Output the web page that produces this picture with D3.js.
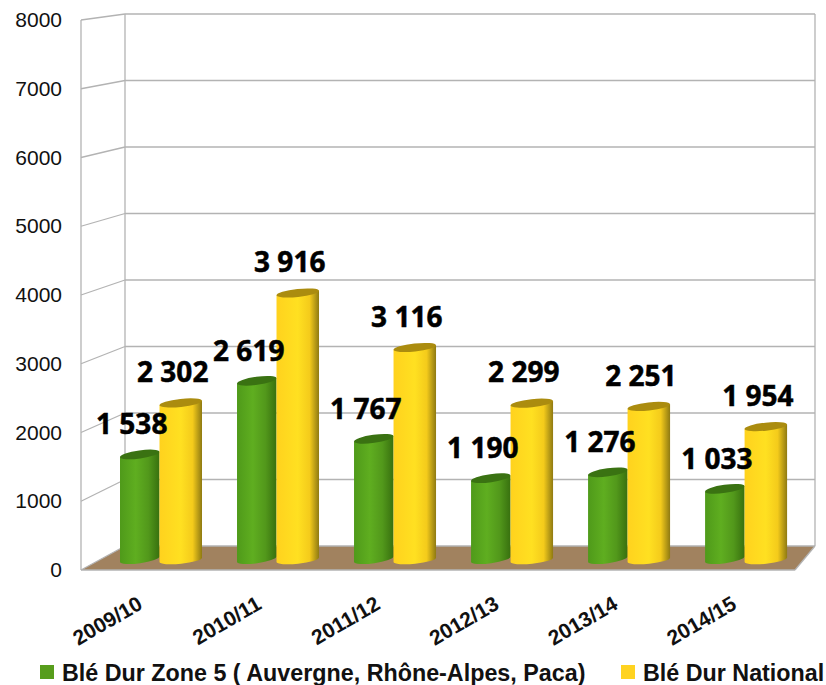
<!DOCTYPE html>
<html>
<head>
<meta charset="utf-8">
<script src="https://d3js.org/d3.v7.min.js"></script>
<style>
  body { margin: 0; background: #fff; }
  svg { display: block; }
</style>
</head>
<body>
<script>
var years = ["2009/10", "2010/11", "2011/12", "2012/13", "2013/14", "2014/15"];
var zone5 = [1538, 2619, 1767, 1190, 1276, 1033];
var national = [2302, 3916, 3116, 2299, 2251, 1954];
var seriesNames = ["Blé Dur Zone 5 ( Auvergne, Rhône-Alpes, Paca)", "Blé Dur National"];
var yTicks = [0, 1000, 2000, 3000, 4000, 5000, 6000, 7000, 8000];

var svgWidth = 826;
var svgHeight = 685;

var svg = d3.select("body").append("svg")
  .attr("width", svgWidth)
  .attr("height", svgHeight);

// 3d box: front edge, back wall
var yFront = d3.scaleLinear().domain([0, 8000]).range([570, 20]);
var yBack = d3.scaleLinear().domain([0, 8000]).range([546, 14]);
var yBar = d3.scaleLinear().domain([0, 8000]).range([562, 17]);
var frontX = 81, backX = 125, backRight = 815, frontRight = 795;

var x0 = d3.scaleBand().domain(years).range([120, 787]).paddingInner(0.3).paddingOuter(0);
var xLabel = d3.scalePoint().domain(years).range([144, 738]);
var seriesOffset = d3.scaleOrdinal().domain([0, 1]).range([0, 39.5]);
var seriesWidth = d3.scaleOrdinal().domain([0, 1]).range([39.5, 42.5]);

var defs = svg.append("defs");
function addGradient(id, stops) {
  var g = defs.append("linearGradient").attr("id", id);
  stops.forEach(function (s) {
    g.append("stop").attr("offset", s[0]).attr("stop-color", s[1]);
  });
}
addGradient("greenBody", [[0, "#4f9a1a"], [0.4, "#5fae20"], [0.72, "#52981b"], [1, "#38700f"]]);
addGradient("yellowBody", [[0, "#ffd21e"], [0.5, "#ffe021"], [0.78, "#f4cb1b"], [1, "#8f7a12"]]);
var capColors = ["#3a7212", "#ab8c0f"];
var bodyFills = ["url(#greenBody)", "url(#yellowBody)"];
var legendColors = ["#579d1c", "#ffd320"];

// floor
svg.append("polygon")
  .attr("points", [[frontX, yFront(0)], [backX, yBack(0)], [backRight, yBack(0)], [frontRight, yFront(0)]].join(" "))
  .attr("fill", "#a1825f");

// grid lines
var grid = svg.append("g").attr("fill", "none").attr("stroke", "#b3b3b3").attr("stroke-width", 1.3);
grid.selectAll(".back").data(yTicks).enter().append("line")
  .attr("x1", backX).attr("x2", backRight)
  .attr("y1", function (d) { return yBack(d); })
  .attr("y2", function (d) { return yBack(d); });
grid.selectAll(".side").data(yTicks).enter().append("line")
  .attr("x1", frontX).attr("x2", backX)
  .attr("y1", function (d) { return yFront(d); })
  .attr("y2", function (d) { return yBack(d); });
grid.append("line").attr("x1", frontX).attr("x2", frontX).attr("y1", yFront(0)).attr("y2", yFront(8000));
grid.append("line").attr("x1", backX).attr("x2", backX).attr("y1", yBack(0)).attr("y2", yBack(8000));
grid.append("line").attr("x1", backRight).attr("x2", backRight).attr("y1", yBack(0)).attr("y2", yBack(8000));
grid.append("line").attr("x1", frontX).attr("x2", frontRight).attr("y1", yFront(0)).attr("y2", yFront(0));
grid.append("line").attr("x1", frontRight).attr("x2", backRight).attr("y1", yFront(0)).attr("y2", yBack(0));

// y axis
var yAxis = svg.append("g")
  .attr("transform", "translate(" + (frontX + 1) + ",0)")
  .call(d3.axisLeft(yFront).tickValues(yTicks).tickSize(0).tickPadding(20).tickFormat(d3.format("d")));
yAxis.select(".domain").remove();
yAxis.selectAll("text")
  .attr("font-family", "Liberation Sans")
  .attr("font-size", 21)
  .attr("fill", "#111");

// x labels
svg.append("g").selectAll("text").data(years).enter().append("text")
  .attr("transform", function (d) {
    return "translate(" + xLabel(d) + ",608) rotate(-30)";
  })
  .attr("text-anchor", "end")
  .attr("font-family", "Liberation Sans")
  .attr("font-weight", "bold")
  .attr("font-size", 21)
  .attr("fill", "#111")
  .text(function (d) { return d; });

// cylinders
var tilts = [8, 6];
var ry = 4;
var fmt = d3.formatLocale({ decimal: ",", thousands: " ", grouping: [3], currency: ["", ""] }).format(",d");

function drawCylinder(g, left, w, value, s) {
  var tilt = tilts[s];
  var top = yBar(value), base = yBar(0), dy = w * Math.tan(tilt * Math.PI / 180), rx = w / 2;
  var arc = "A" + rx + " " + ry + " " + (-tilt) + " 0 ";
  g.append("path")
    .attr("d", "M" + left + "," + top + "L" + left + "," + base + arc + "0 " + (left + w) + "," + (base - dy) +
      "L" + (left + w) + "," + (top - dy) + "Z")
    .attr("fill", bodyFills[s]);
  g.append("path")
    .attr("d", "M" + left + "," + top + arc + "1 " + (left + w) + "," + (top - dy) + arc + "1 " + left + "," + top + "Z")
    .attr("fill", capColors[s]);
}

var bars = svg.append("g");
years.forEach(function (y, i) {
  [zone5[i], national[i]].forEach(function (v, s) {
    drawCylinder(bars, x0(y) + seriesOffset(s), seriesWidth(s), v, s);
  });
});

// value labels, drawn last so they sit over the bars
var labels = svg.append("g")
  .attr("font-family", "Noto Sans")
  .attr("font-weight", "bold")
  .attr("font-size", 28)
  .attr("text-anchor", "middle")
  .attr("fill", "#000")
  .attr("stroke", "#000")
  .attr("stroke-width", 0.5);
years.forEach(function (y, i) {
  [zone5[i], national[i]].forEach(function (v, s) {
    labels.append("text")
      .attr("x", x0(y) + seriesOffset(s) + seriesWidth(s) / 2 - 8)
      .attr("y", yBar(v) - 23)
      .text(fmt(v));
  });
});

// legend
var legend = svg.append("g")
  .attr("font-family", "Liberation Sans")
  .attr("font-weight", "bold")
  .attr("font-size", 23.3)
  .attr("fill", "#111");
var legendX = [40, 621];
seriesNames.forEach(function (name, s) {
  legend.append("rect")
    .attr("x", legendX[s]).attr("y", 665)
    .attr("width", 14).attr("height", 14)
    .attr("fill", legendColors[s]);
  legend.append("text")
    .attr("x", legendX[s] + 22).attr("y", 681)
    .text(name);
});
</script>
</body>
</html>
